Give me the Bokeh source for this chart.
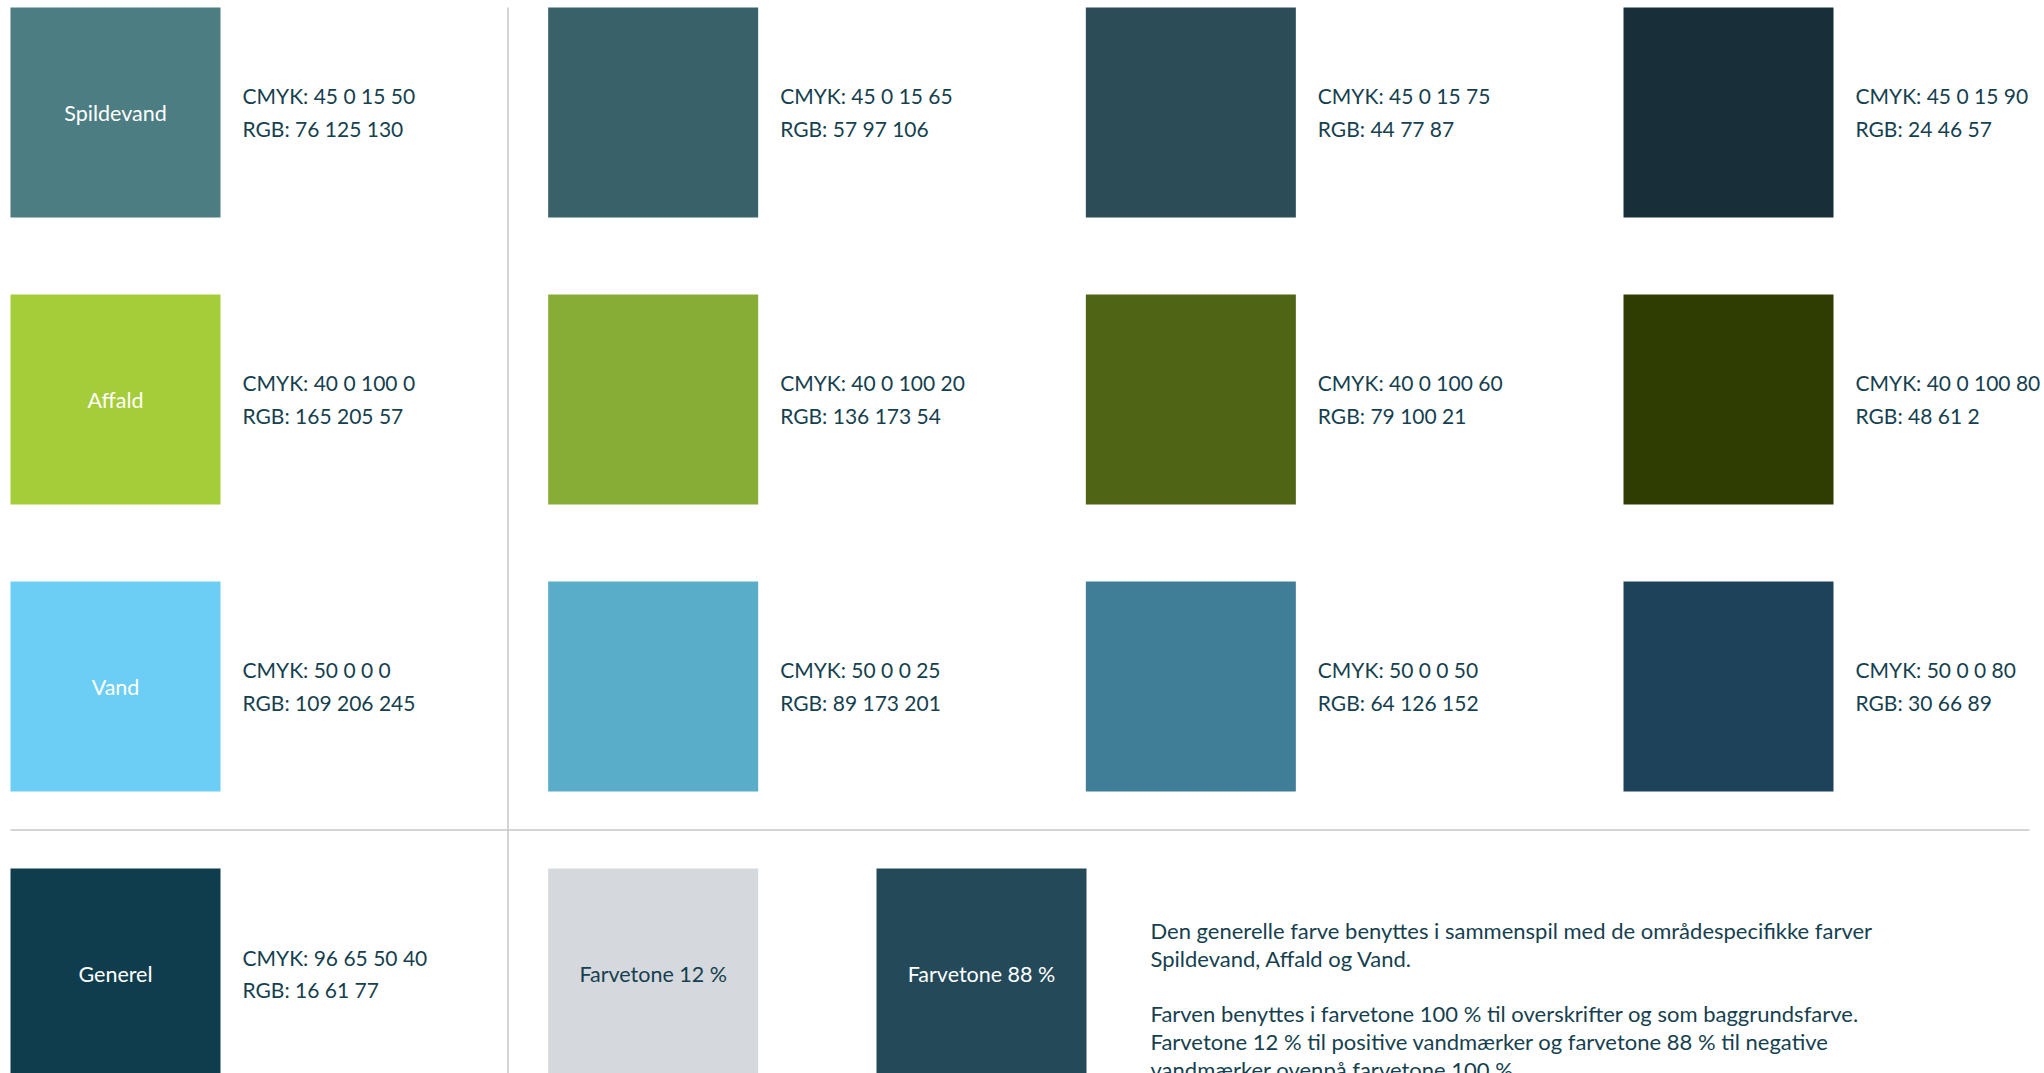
from bokeh.plotting import figure
from bokeh.models import Range1d, ColumnDataSource
from bokeh.core.properties import value
from bokeh.embed import file_html
from bokeh.resources import INLINE

# ---- data ----
family_names = ["Spildevand", "Affald", "Vand"]
spildevand_cmyk = ["45 0 15 50", "45 0 15 65", "45 0 15 75", "45 0 15 90"]
spildevand_rgb = [(76, 125, 130), (57, 97, 106), (44, 77, 87), (24, 46, 57)]
affald_cmyk = ["40 0 100 0", "40 0 100 20", "40 0 100 60", "40 0 100 80"]
affald_rgb = [(165, 205, 57), (136, 173, 54), (79, 100, 21), (48, 61, 2)]
vand_cmyk = ["50 0 0 0", "50 0 0 25", "50 0 0 50", "50 0 0 80"]
vand_rgb = [(109, 206, 245), (89, 173, 201), (64, 126, 152), (30, 66, 89)]
generel_name = "Generel"
generel_cmyk = "96 65 50 40"
generel_rgb = (16, 61, 77)
tint_labels = ["Farvetone 12 %", "Farvetone 88 %"]
tint_colors = ["#d5d8dd", "#244a5a"]
tint_text_colors = ["#163f4f", "#ffffff"]
paragraph = [
    "Den generelle farve benyttes i sammenspil med de områdespecifikke farver",
    "Spildevand, Affald og Vand.",
    "",
    "Farven benyttes i farvetone 100 % til overskrifter og som baggrundsfarve.",
    "Farvetone 12 % til positive vandmærker og farvetone 88 % til negative",
    "vandmærker ovenpå farvetone 100 %.",
]

# ---- layout ----
W, H = 2044, 1073
COL0, COLSTEP = 10, 537.67
ROW0, ROWSTEP = 7, 287
SQ = 210
TEXT_DX = 232
DY = -8
FONT = value("Lato")
TXT = "#163f4f"

def hexc(rgb):
    return "#%02x%02x%02x" % rgb

p = figure(width=W, height=H, output_backend="svg", toolbar_location=None,
           x_range=Range1d(0, W), y_range=Range1d(H, 0),
           x_axis_type=None, y_axis_type=None, min_border=0)
p.grid.visible = False
p.outline_line_color = None
p.background_fill_color = "white"
p.border_fill_color = "white"

# colour swatches
families = [(spildevand_cmyk, spildevand_rgb), (affald_cmyk, affald_rgb), (vand_cmyk, vand_rgb)]
L, R, T, B, C = [], [], [], [], []
tx, ty1, ty2, t1, t2 = [], [], [], [], []
for r, (cm, rg) in enumerate(families):
    for c in range(4):
        left = COL0 + c * COLSTEP
        top = ROW0 + r * ROWSTEP
        L.append(left); R.append(left + SQ); T.append(top); B.append(top + SQ)
        C.append(hexc(rg[c]))
        tx.append(left + TEXT_DX); ty1.append(top + 96 + DY); ty2.append(top + 129 + DY)
        t1.append("CMYK: " + cm[c]); t2.append("RGB: " + " ".join(str(v) for v in rg[c]))

# generel row
gtop = ROW0 + 3 * ROWSTEP
L.append(COL0); R.append(COL0 + SQ); T.append(gtop); B.append(gtop + SQ); C.append(hexc(generel_rgb))
tx.append(COL0 + TEXT_DX); ty1.append(gtop + 97 + DY); ty2.append(gtop + 129 + DY)
t1.append("CMYK: " + generel_cmyk); t2.append("RGB: " + " ".join(str(v) for v in generel_rgb))

tint_lefts = [COL0 + COLSTEP, 876]
for i in range(2):
    L.append(tint_lefts[i]); R.append(tint_lefts[i] + SQ); T.append(gtop); B.append(gtop + SQ)
    C.append(tint_colors[i])

p.quad(left=L, right=R, top=T, bottom=B, fill_color=C, line_color=None)

# separator lines
p.segment(x0=[507.5, 10], y0=[7, 829.5], x1=[507.5, 2029], y1=[1073, 829.5],
          line_color="#c6c6c6", line_width=1.5)

# CMYK / RGB texts
src = ColumnDataSource(dict(x=tx, y1=ty1, y2=ty2, t1=t1, t2=t2))
p.text(x="x", y="y1", text="t1", source=src, text_font=FONT, text_font_size="21px",
       text_color=TXT, text_baseline="alphabetic", text_align="left")
p.text(x="x", y="y2", text="t2", source=src, text_font=FONT, text_font_size="21px",
       text_color=TXT, text_baseline="alphabetic", text_align="left")

# labels inside swatches
lx = [COL0 + SQ / 2] * 4 + [tint_lefts[0] + SQ / 2, tint_lefts[1] + SQ / 2]
ly = [ROW0 + r * ROWSTEP + 113 + DY for r in range(4)] + [gtop + 113 + DY, gtop + 113 + DY]
lt = family_names + [generel_name] + tint_labels
lc = ["#ffffff"] * 4 + tint_text_colors
p.text(x=lx, y=ly, text=lt, text_color=lc, text_font=FONT, text_font_size="21.5px",
       text_baseline="alphabetic", text_align="center")

# paragraph
px, py, pt = [], [], []
for i, line in enumerate(paragraph):
    if line:
        px.append(1150); py.append(938 + DY + 27.7 * i); pt.append(line)
p.text(x=px, y=py, text=pt, text_font=FONT, text_font_size="22px", text_color=TXT,
       text_baseline="alphabetic", text_align="left")

open("out.html", "w").write(file_html(p, INLINE))
